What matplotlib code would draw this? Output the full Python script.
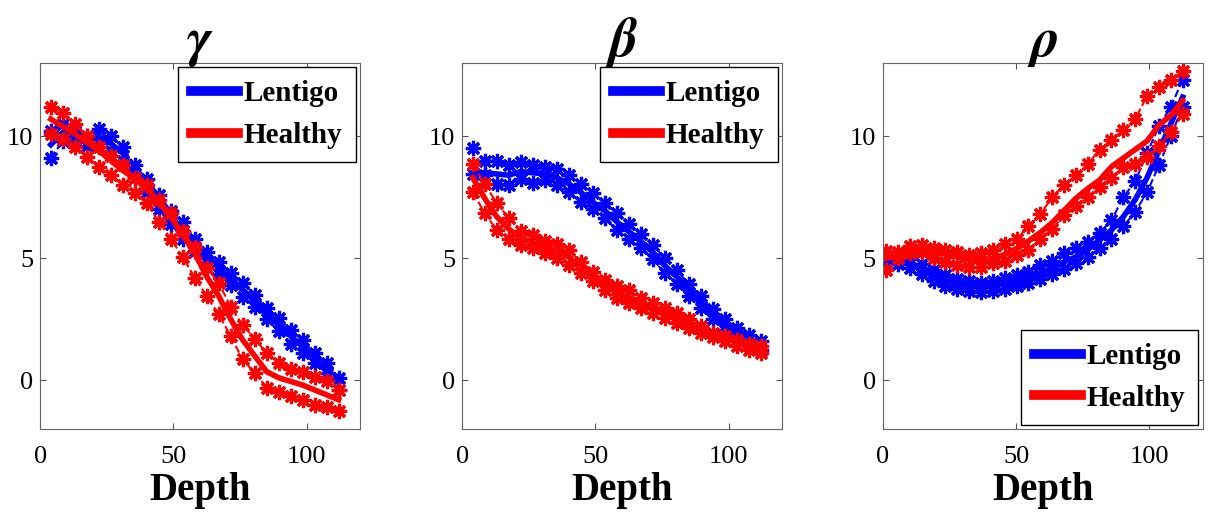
import matplotlib
matplotlib.use('Agg')
import matplotlib.pyplot as plt
from matplotlib.lines import Line2D
import numpy as np

plt.rcParams['font.family'] = ['Liberation Serif', 'DejaVu Serif']
plt.rcParams['mathtext.fontset'] = 'stix'

# depth samples
depth = np.arange(4, 113, 4.5)
depth_rho = np.linspace(1.25, 112.5, 26)

# gamma
gamma_lentigo = [9.65, 10.15, 10.05, 9.8, 10.0, 9.7, 9.3, 8.55, 8.0, 7.3, 6.7, 6.15, 5.55, 5.05, 4.6, 4.15, 3.7, 3.25, 2.75, 2.3, 1.8, 1.4, 0.9, 0.5, -0.1]
gamma_lentigo_hi = [10.2, 10.5, 10.2, 10.0, 10.3, 10.0, 9.55, 8.8, 8.25, 7.6, 6.95, 6.5, 5.8, 5.25, 4.85, 4.4, 4.0, 3.5, 2.95, 2.55, 2.05, 1.65, 1.1, 0.7, 0.1]
gamma_lentigo_lo = [9.1, 9.8, 9.9, 9.6, 9.7, 9.4, 9.0, 8.3, 7.7, 7.0, 6.4, 5.8, 5.3, 4.85, 4.35, 3.9, 3.4, 3.0, 2.5, 2.0, 1.5, 1.1, 0.7, 0.3, -0.4]
gamma_healthy = [10.7, 10.4, 10.1, 9.75, 9.4, 9.0, 8.6, 8.25, 7.85, 7.3, 6.7, 5.95, 5.2, 4.25, 3.45, 2.5, 1.65, 1.0, 0.35, 0.1, -0.05, -0.2, -0.4, -0.6, -0.8]
gamma_healthy_hi = [11.2, 10.95, 10.5, 10.0, 9.55, 9.2, 8.8, 8.3, 8.0, 7.4, 6.85, 6.1, 5.45, 4.6, 4.0, 3.0, 2.25, 1.7, 1.1, 0.7, 0.45, 0.35, 0.15, -0.05, -0.4]
gamma_healthy_lo = [10.1, 9.9, 9.55, 9.15, 8.75, 8.4, 8.0, 7.65, 7.25, 6.5, 5.8, 5.05, 4.2, 3.45, 2.7, 1.8, 0.85, 0.3, -0.3, -0.5, -0.65, -0.8, -1.0, -1.1, -1.25]

# beta
beta_lentigo = [8.5, 8.5, 8.45, 8.4, 8.55, 8.5, 8.45, 8.3, 8.05, 7.7, 7.3, 6.95, 6.5, 6.1, 5.7, 5.25, 4.7, 4.25, 3.7, 3.2, 2.7, 2.3, 2.0, 1.7, 1.45]
beta_lentigo_hi = [9.5, 9.0, 9.0, 8.8, 8.95, 8.8, 8.75, 8.65, 8.4, 8.05, 7.65, 7.25, 6.85, 6.4, 6.0, 5.55, 5.0, 4.5, 3.95, 3.45, 2.9, 2.5, 2.15, 1.85, 1.6]
beta_lentigo_lo = [8.45, 8.4, 8.05, 8.0, 8.25, 8.1, 8.2, 8.0, 7.7, 7.3, 7.0, 6.65, 6.15, 5.8, 5.4, 4.95, 4.4, 3.95, 3.45, 2.95, 2.5, 2.05, 1.8, 1.5, 1.25]
beta_healthy = [8.3, 7.45, 6.7, 6.2, 5.8, 5.65, 5.45, 5.3, 5.05, 4.65, 4.25, 3.9, 3.6, 3.4, 3.15, 2.95, 2.75, 2.55, 2.3, 2.1, 1.85, 1.7, 1.55, 1.4, 1.25]
beta_healthy_hi = [8.85, 8.05, 7.25, 6.65, 6.1, 5.95, 5.7, 5.6, 5.35, 4.85, 4.45, 4.1, 3.85, 3.7, 3.35, 3.15, 2.95, 2.75, 2.5, 2.2, 1.95, 1.8, 1.65, 1.5, 1.4]
beta_healthy_lo = [7.7, 6.85, 6.15, 5.8, 5.55, 5.4, 5.2, 5.0, 4.7, 4.4, 4.05, 3.7, 3.35, 3.15, 2.95, 2.75, 2.55, 2.35, 2.15, 1.95, 1.75, 1.6, 1.4, 1.25, 1.1]

# rho
rho_lentigo = [5.0, 4.95, 4.8, 4.55, 4.3, 4.1, 3.95, 3.85, 3.8, 3.85, 3.95, 4.05, 4.2, 4.4, 4.6, 4.85, 5.05, 5.35, 5.75, 6.15, 6.7, 7.4, 8.3, 9.4, 10.5, 11.6]
rho_lentigo_hi = [5.15, 5.1, 4.95, 4.75, 4.5, 4.3, 4.15, 4.05, 4.0, 4.05, 4.2, 4.3, 4.45, 4.7, 4.9, 5.2, 5.4, 5.65, 6.05, 6.55, 7.5, 8.15, 9.3, 10.4, 11.2, 12.3]
rho_lentigo_lo = [4.85, 4.75, 4.6, 4.35, 4.05, 3.85, 3.75, 3.65, 3.6, 3.65, 3.75, 3.85, 4.0, 4.15, 4.35, 4.55, 4.8, 5.05, 5.4, 5.8, 6.3, 6.9, 7.7, 8.8, 10.0, 11.2]
rho_healthy = [5.0, 5.1, 5.3, 5.4, 5.3, 5.15, 5.05, 4.95, 4.9, 5.0, 5.15, 5.4, 5.7, 6.05, 6.45, 6.95, 7.45, 7.85, 8.2, 8.75, 9.1, 9.45, 9.8, 10.45, 10.85, 11.45]
rho_healthy_hi = [5.3, 5.25, 5.5, 5.55, 5.4, 5.35, 5.25, 5.15, 5.2, 5.35, 5.6, 5.8, 6.3, 6.8, 7.5, 8.0, 8.4, 8.85, 9.45, 9.85, 10.25, 10.7, 11.65, 12.0, 12.3, 12.65]
rho_healthy_lo = [4.5, 5.0, 5.2, 5.25, 5.0, 4.85, 4.7, 4.65, 4.65, 4.8, 4.9, 5.15, 5.35, 5.8, 6.2, 6.75, 7.15, 7.5, 7.9, 8.3, 8.75, 8.85, 9.15, 9.6, 10.15, 10.9]

titles = [r'$\boldsymbol{\gamma}$', r'$\boldsymbol{\beta}$', r'$\boldsymbol{\rho}$']
panels = [
    (depth, gamma_lentigo, gamma_lentigo_hi, gamma_lentigo_lo, gamma_healthy, gamma_healthy_hi, gamma_healthy_lo, 'upper right'),
    (depth, beta_lentigo, beta_lentigo_hi, beta_lentigo_lo, beta_healthy, beta_healthy_hi, beta_healthy_lo, 'upper right'),
    (depth_rho, rho_lentigo, rho_lentigo_hi, rho_lentigo_lo, rho_healthy, rho_healthy_hi, rho_healthy_lo, 'lower right'),
]

star = (8, 2, 0)  # asterisk marker
fig = plt.figure(figsize=(12.16, 5.2), dpi=100)
lefts = [0.033, 0.380, 0.726]

for k, (x, lm, lh, ll, hm, hh, hl, loc) in enumerate(panels):
    ax = fig.add_axes([lefts[k], 0.175, 0.263, 0.704])
    for mean, hi, lo, c in [(lm, lh, ll, 'blue'), (hm, hh, hl, 'red')]:
        ax.plot(x, hi, '--', color=c, lw=1.5, marker=star, ms=11, mew=2.3)
        ax.plot(x, lo, '--', color=c, lw=1.5, marker=star, ms=11, mew=2.3)
        ax.plot(x, mean, '-', color=c, lw=4)

    ax.set_xlim(0, 120)
    ax.set_ylim(-2, 13)
    ax.set_xticks([0, 50, 100])
    ax.set_yticks([0, 5, 10])
    ax.tick_params(direction='in', top=True, right=True, length=4, labelsize=19,
                   color='#555555')
    ax.tick_params(axis='y', pad=5)
    ax.tick_params(axis='x', pad=12)
    for s in ax.spines.values():
        s.set_color('#666666')
    ax.set_title(titles[k], fontsize=40, pad=5)
    ax.set_xlabel('Depth', fontsize=28, fontweight='bold', labelpad=3)

    handles = [Line2D([], [], color='blue', lw=7), Line2D([], [], color='red', lw=7)]
    leg = ax.legend(handles, ['Lentigo', 'Healthy'], loc=loc,
                    prop={'weight': 'bold', 'size': 21}, fancybox=False, framealpha=1,
                    edgecolor='black', borderaxespad=0.15, handlelength=1.6,
                    handletextpad=0.2, borderpad=0.45, labelspacing=0.5)
    leg.get_frame().set_linewidth(1.0)

fig.savefig('out.png', dpi=100)
